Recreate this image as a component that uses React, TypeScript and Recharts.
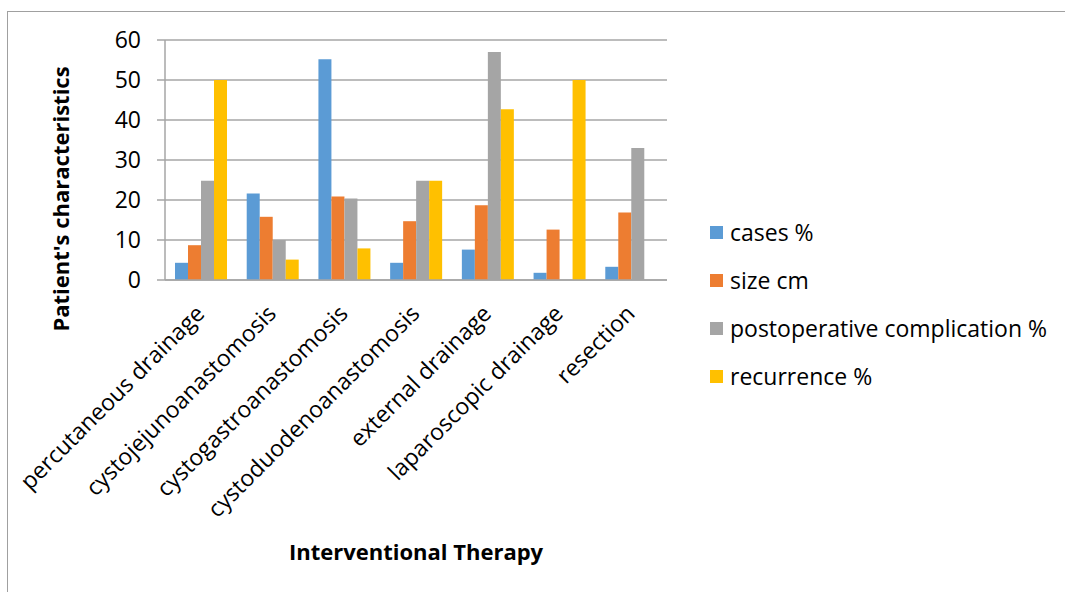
import React from "react";
import { BarChart, Bar, XAxis, YAxis, CartesianGrid, Legend } from "recharts";

const categories = [
  "percutaneous drainage",
  "cystojejunoanastomosis",
  "cystogastroanastomosis",
  "cystoduodenoanastomosis",
  "external drainage",
  "laparoscopic drainage",
  "resection",
];
const casesPct = [4.3, 21.6, 55.2, 4.3, 7.6, 1.8, 3.3];
const sizeCm = [8.7, 15.8, 20.9, 14.7, 18.7, 12.6, 16.9];
const complicationPct = [24.8, 10, 20.4, 24.8, 57, 0, 33];
const recurrencePct = [50, 5.1, 7.9, 24.8, 42.7, 50, 0];
const yTicks = [0, 10, 20, 30, 40, 50, 60];

const series = [
  { key: "cases", name: "cases %", color: "#5B9BD5" },
  { key: "size", name: "size cm", color: "#ED7D31" },
  { key: "comp", name: "postoperative complication %", color: "#A5A5A5" },
  { key: "rec", name: "recurrence %", color: "#FFC000" },
];

const data = categories.map((c, i) => ({
  name: c,
  cases: casesPct[i],
  size: sizeCm[i],
  comp: complicationPct[i],
  rec: recurrencePct[i],
}));

const FONT = "'Open Sans', sans-serif";
const GRID = "#a6a6a6";

function XTick(props: any) {
  const { x, y, payload } = props;
  const ax = x + 5;
  const ay = y + 27;
  return (
    <text
      x={ax}
      y={ay}
      transform={`rotate(-45, ${ax}, ${ay})`}
      textAnchor="end"
      fontFamily={FONT}
      fontSize={23}
      fill="#000"
    >
      {payload.value}
    </text>
  );
}

// legend drawn from the series list so the order stays as in the source
function LegendBox() {
  return (
    <div style={{ fontFamily: FONT, fontSize: 23, color: "#000" }}>
      {series.map((s) => (
        <div key={s.key} style={{ height: 48, display: "flex", alignItems: "center" }}>
          <span
            style={{ width: 13, height: 13, background: s.color, display: "inline-block", marginRight: 7 }}
          />
          <span>{s.name}</span>
        </div>
      ))}
    </div>
  );
}

export default function App() {
  return (
    <div
      style={{
        position: "absolute",
        left: 0,
        top: 0,
        width: 1065,
        height: 592,
        overflow: "hidden",
        background: "#fff",
      }}
    >
      <div
        style={{
          position: "absolute",
          left: 7,
          top: 11,
          width: 1080,
          height: 600,
          border: "1px solid #a0a0a0",
        }}
      />
      <BarChart
        width={1065}
        height={592}
        data={data}
        margin={{ top: 40, right: 398, bottom: 0, left: 105 }}
        barGap={0}
        style={{ position: "absolute", left: 0, top: 0 }}
      >
        <CartesianGrid horizontal vertical={false} stroke={GRID} strokeWidth={1.5} />
        <XAxis
          dataKey="name"
          height={312}
          interval={0}
          tick={<XTick />}
          tickLine={false}
          axisLine={{ stroke: GRID, strokeWidth: 1.5 }}
        />
        <YAxis
          width={60}
          domain={[0, 60]}
          ticks={yTicks}
          interval={0}
          tickSize={8}
          tickMargin={16}
          tickLine={{ stroke: GRID, strokeWidth: 1.5 }}
          axisLine={{ stroke: GRID, strokeWidth: 1.5 }}
          tick={{ fontFamily: FONT, fontSize: 23, fill: "#000" }}
        />
        <Legend
          layout="vertical"
          align="center"
          verticalAlign="middle"
          content={<LegendBox />}
          wrapperStyle={{ left: 710, top: 208, width: 355 }}
        />
        {series.map((s) => (
          <Bar key={s.key} dataKey={s.key} name={s.name} fill={s.color} barSize={13} isAnimationActive={false} />
        ))}
      </BarChart>
      <div
        style={{
          position: "absolute",
          left: 60,
          top: 199,
          transform: "translate(-50%, -50%) rotate(-90deg)",
          fontFamily: FONT,
          fontWeight: 700,
          fontSize: 22,
          whiteSpace: "nowrap",
          color: "#000",
        }}
      >
        Patient's characteristics
      </div>
      <div
        style={{
          position: "absolute",
          left: 416,
          top: 551,
          transform: "translate(-50%, -50%)",
          fontFamily: FONT,
          fontWeight: 700,
          fontSize: 22,
          whiteSpace: "nowrap",
          color: "#000",
        }}
      >
        Interventional Therapy
      </div>
    </div>
  );
}
